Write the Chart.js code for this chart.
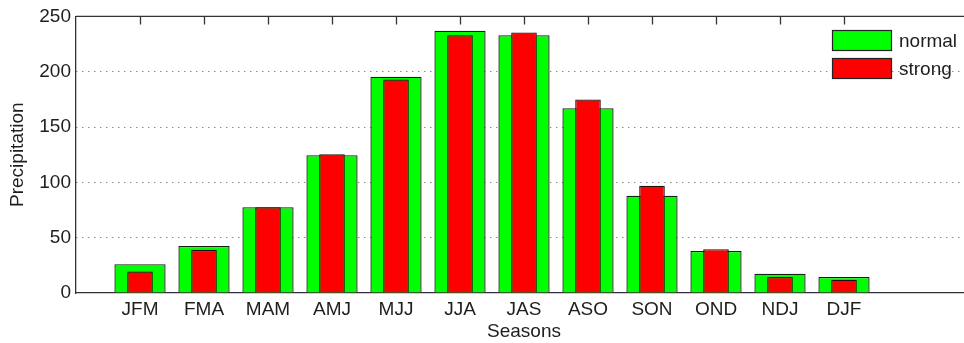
<!DOCTYPE html>
<html>
<head>
<meta charset="utf-8">
<script src="https://cdn.jsdelivr.net/npm/chart.js@4/dist/chart.umd.min.js"></script>
<style>
  html, body { margin: 0; padding: 0; background: #fff; overflow: hidden; }
  #wrap { width: 964px; height: 343px; overflow: hidden; }
</style>
</head>
<body>
<div id="wrap"><canvas id="c" width="974" height="343"></canvas></div>
<script>
// Three-month seasons and mean precipitation for each regime
const seasons = ['JFM', 'FMA', 'MAM', 'AMJ', 'MJJ', 'JJA', 'JAS', 'ASO', 'SON', 'OND', 'NDJ', 'DJF'];
const normal  = [26, 42.5, 77.5, 124.5, 195.5, 237, 233, 167, 88, 38, 17.5, 14.5];
const strong  = [19.5, 39, 77.5, 125.5, 193, 233, 235.5, 175, 97, 39.5, 14.5, 12];
const yTicks  = [0, 50, 100, 150, 200, 250];

const FONT = '"Liberation Sans", Arial, sans-serif';
const INK = '#1e1e1e';
Chart.defaults.font.family = FONT;
Chart.defaults.font.size = 19;
Chart.defaults.color = INK;

const toPoints = vals => seasons.map((s, i) => ({ x: i + 1, y: vals[i] }));

// Box on top edge with inward tick marks at each season
const frameTop = {
  id: 'frameTop',
  afterDatasetsDraw(chart) {
    const { ctx, chartArea } = chart;
    const xs = chart.scales.x;
    ctx.save();
    ctx.strokeStyle = '#333';
    ctx.lineWidth = 1.3;
    ctx.beginPath();
    ctx.moveTo(chartArea.left, chartArea.top);
    ctx.lineTo(chartArea.right, chartArea.top);
    xs.ticks.forEach(t => {
      const px = Math.round(xs.getPixelForValue(t.value)) + 0.5;
      ctx.moveTo(px, chartArea.top);
      ctx.lineTo(px, chartArea.top + 8);
    });
    ctx.stroke();
    ctx.restore();
  }
};

// Legend drawn inside the plot, upper right
const insideLegend = {
  id: 'insideLegend',
  afterDraw(chart, args, opts) {
    const { ctx } = chart;
    const order = [0, 1];
    ctx.save();
    ctx.font = '19px ' + FONT;
    ctx.textBaseline = 'middle';
    ctx.textAlign = 'left';
    order.forEach((di, k) => {
      const ds = chart.data.datasets[di];
      const x = opts.left;
      const y = opts.top + k * opts.rowGap;
      ctx.fillStyle = ds.backgroundColor;
      ctx.fillRect(x, y, opts.boxW, opts.boxH);
      ctx.strokeStyle = '#222';
      ctx.lineWidth = 1.2;
      ctx.strokeRect(x + 0.5, y + 0.5, opts.boxW - 1, opts.boxH - 1);
      ctx.fillStyle = INK;
      ctx.fillText(ds.label, x + opts.boxW + 7, y + opts.boxH / 2 + 1);
    });
    ctx.restore();
  }
};

new Chart(document.getElementById('c'), {
  type: 'bar',
  data: {
    datasets: [
      {
        label: 'normal',
        data: toPoints(normal),
        backgroundColor: '#00ff00',
        borderColor: '#142014',
        borderWidth: 1.3,
        borderSkipped: 'start',
        barPercentage: 0.8,
        categoryPercentage: 1,
        order: 2
      },
      {
        label: 'strong',
        data: toPoints(strong),
        backgroundColor: '#ff0000',
        borderColor: '#201010',
        borderWidth: 1.3,
        borderSkipped: 'start',
        barPercentage: 0.4,
        categoryPercentage: 1,
        order: 1
      }
    ]
  },
  options: {
    responsive: false,
    animation: false,
    layout: { padding: { left: 0, top: 14, right: 2, bottom: 0 } },
    datasets: { bar: { grouped: false } },
    plugins: {
      legend: { display: false },
      tooltip: { enabled: false },
      insideLegend: { left: 832, top: 30, boxW: 60, boxH: 21, rowGap: 28 }
    },
    scales: {
      x: {
        type: 'linear',
        position: 'bottom',
        offset: false,
        min: 0,
        max: 14,
        afterBuildTicks(scale) {
          scale.ticks = seasons.map((s, i) => ({ value: i + 1 }));
        },
        afterFit(scale) { scale.height = 50; },
        ticks: {
          autoSkip: false,
          maxRotation: 0,
          padding: 5,
          color: INK,
          callback: v => seasons[v - 1] ?? ''
        },
        grid: { display: false, drawTicks: false, offset: false },
        border: { display: true, color: '#333', width: 1.3 },
        title: {
          display: true,
          text: 'Seasons',
          color: INK,
          padding: { top: 0, bottom: 0 }
        }
      },
      y: {
        min: 0,
        max: 250,
        afterBuildTicks(scale) {
          scale.ticks = yTicks.map(v => ({ value: v }));
        },
        afterFit(scale) { scale.width = 76; },
        ticks: { padding: 5, color: INK },
        grid: {
          drawTicks: false,
          lineWidth: 1,
          color: c => (c.tick && (c.tick.value === 0 || c.tick.value === 250)) ? 'rgba(0,0,0,0)' : '#555'
        },
        border: { display: true, color: '#333', width: 1.3, dash: [1, 5] },
        title: {
          display: true,
          text: 'Precipitation',
          color: INK,
          padding: { top: 6, bottom: 0 }
        }
      }
    }
  },
  plugins: [frameTop, insideLegend]
});
</script>
</body>
</html>
